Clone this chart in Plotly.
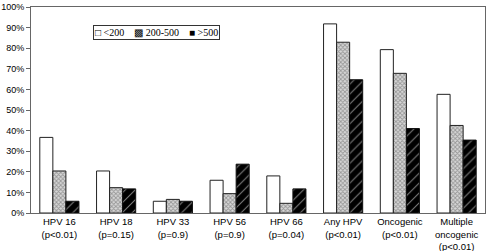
import plotly.graph_objects as go

categories = ["HPV 16<br>(p<0.01)", "HPV 18<br>(p=0.15)", "HPV 33<br>(p=0.9)", "HPV 56<br>(p=0.9)",
              "HPV 66<br>(p=0.04)", "Any HPV<br>(p<0.01)", "Oncogenic<br>(p<0.01)",
              "Multiple<br>oncogenic<br>(p<0.01)"]
lt200 = [36.7, 20.4, 5.7, 15.9, 18.0, 91.8, 79.3, 57.6]
mid200_500 = [20.4, 12.3, 6.6, 9.4, 4.7, 82.9, 67.8, 42.5]
gt500 = [5.7, 11.7, 5.7, 23.7, 11.7, 64.7, 41.0, 35.4]
series_names = ["<200", "200-500", ">500"]
legend_swatches = ["□", "▩", "■"]
y_ticks = [0, 10, 20, 30, 40, 50, 60, 70, 80, 90, 100]

fig = go.Figure()
fig.add_trace(go.Bar(x=categories, y=lt200, name=series_names[0],
                     marker=dict(color="white", line=dict(color="#222", width=1))))
fig.add_trace(go.Bar(x=categories, y=mid200_500, name=series_names[1],
                     marker=dict(color="#ffffff", line=dict(color="#222", width=1),
                                 pattern=dict(shape="x", fgcolor="#555", bgcolor="#d8d8d8",
                                              size=3, solidity=0.5))))
fig.add_trace(go.Bar(x=categories, y=gt500, name=series_names[2],
                     marker=dict(color="black", line=dict(color="#111", width=1),
                                 pattern=dict(shape="/", fgcolor="white", bgcolor="black",
                                              size=7, solidity=0.15))))

gap = "&nbsp;" * 4
legend_text = gap.join(f"{s}&nbsp;{n.replace('<', '&lt;').replace('>', '&gt;')}"
                       for s, n in zip(legend_swatches, series_names))
fig.add_annotation(text=legend_text, xref="paper", yref="paper", x=0.137, y=0.912,
                   xanchor="left", yanchor="top", showarrow=False,
                   font=dict(family="Liberation Serif, Times New Roman", size=10, color="#000"),
                   bordercolor="#333", borderwidth=1, borderpad=1, bgcolor="white")

fig.update_layout(
    width=488, height=251,
    margin=dict(l=31, r=3, t=7, b=38),
    paper_bgcolor="white", plot_bgcolor="white",
    barmode="group", bargap=0.31, bargroupgap=0,
    font=dict(family="Liberation Sans, Arial", size=9, color="#000"),
    showlegend=False,
)
fig.update_yaxes(range=[0, 100], tickvals=y_ticks, ticktext=[f"{v}%" for v in y_ticks],
                 showgrid=False, showline=True, linecolor="#666", linewidth=1, mirror=True,
                 ticks="outside", ticklen=4, tickcolor="#666", zeroline=False,
                 automargin=False, tickfont=dict(size=9, color="#000"))
fig.update_xaxes(showline=True, linecolor="#666", linewidth=1, mirror=True, ticks="",
                 automargin=False, tickfont=dict(size=9.5, color="#000"))
fig.write_html("out.html", config={"displayModeBar": False},
               post_script="document.body.style.margin='0';")
